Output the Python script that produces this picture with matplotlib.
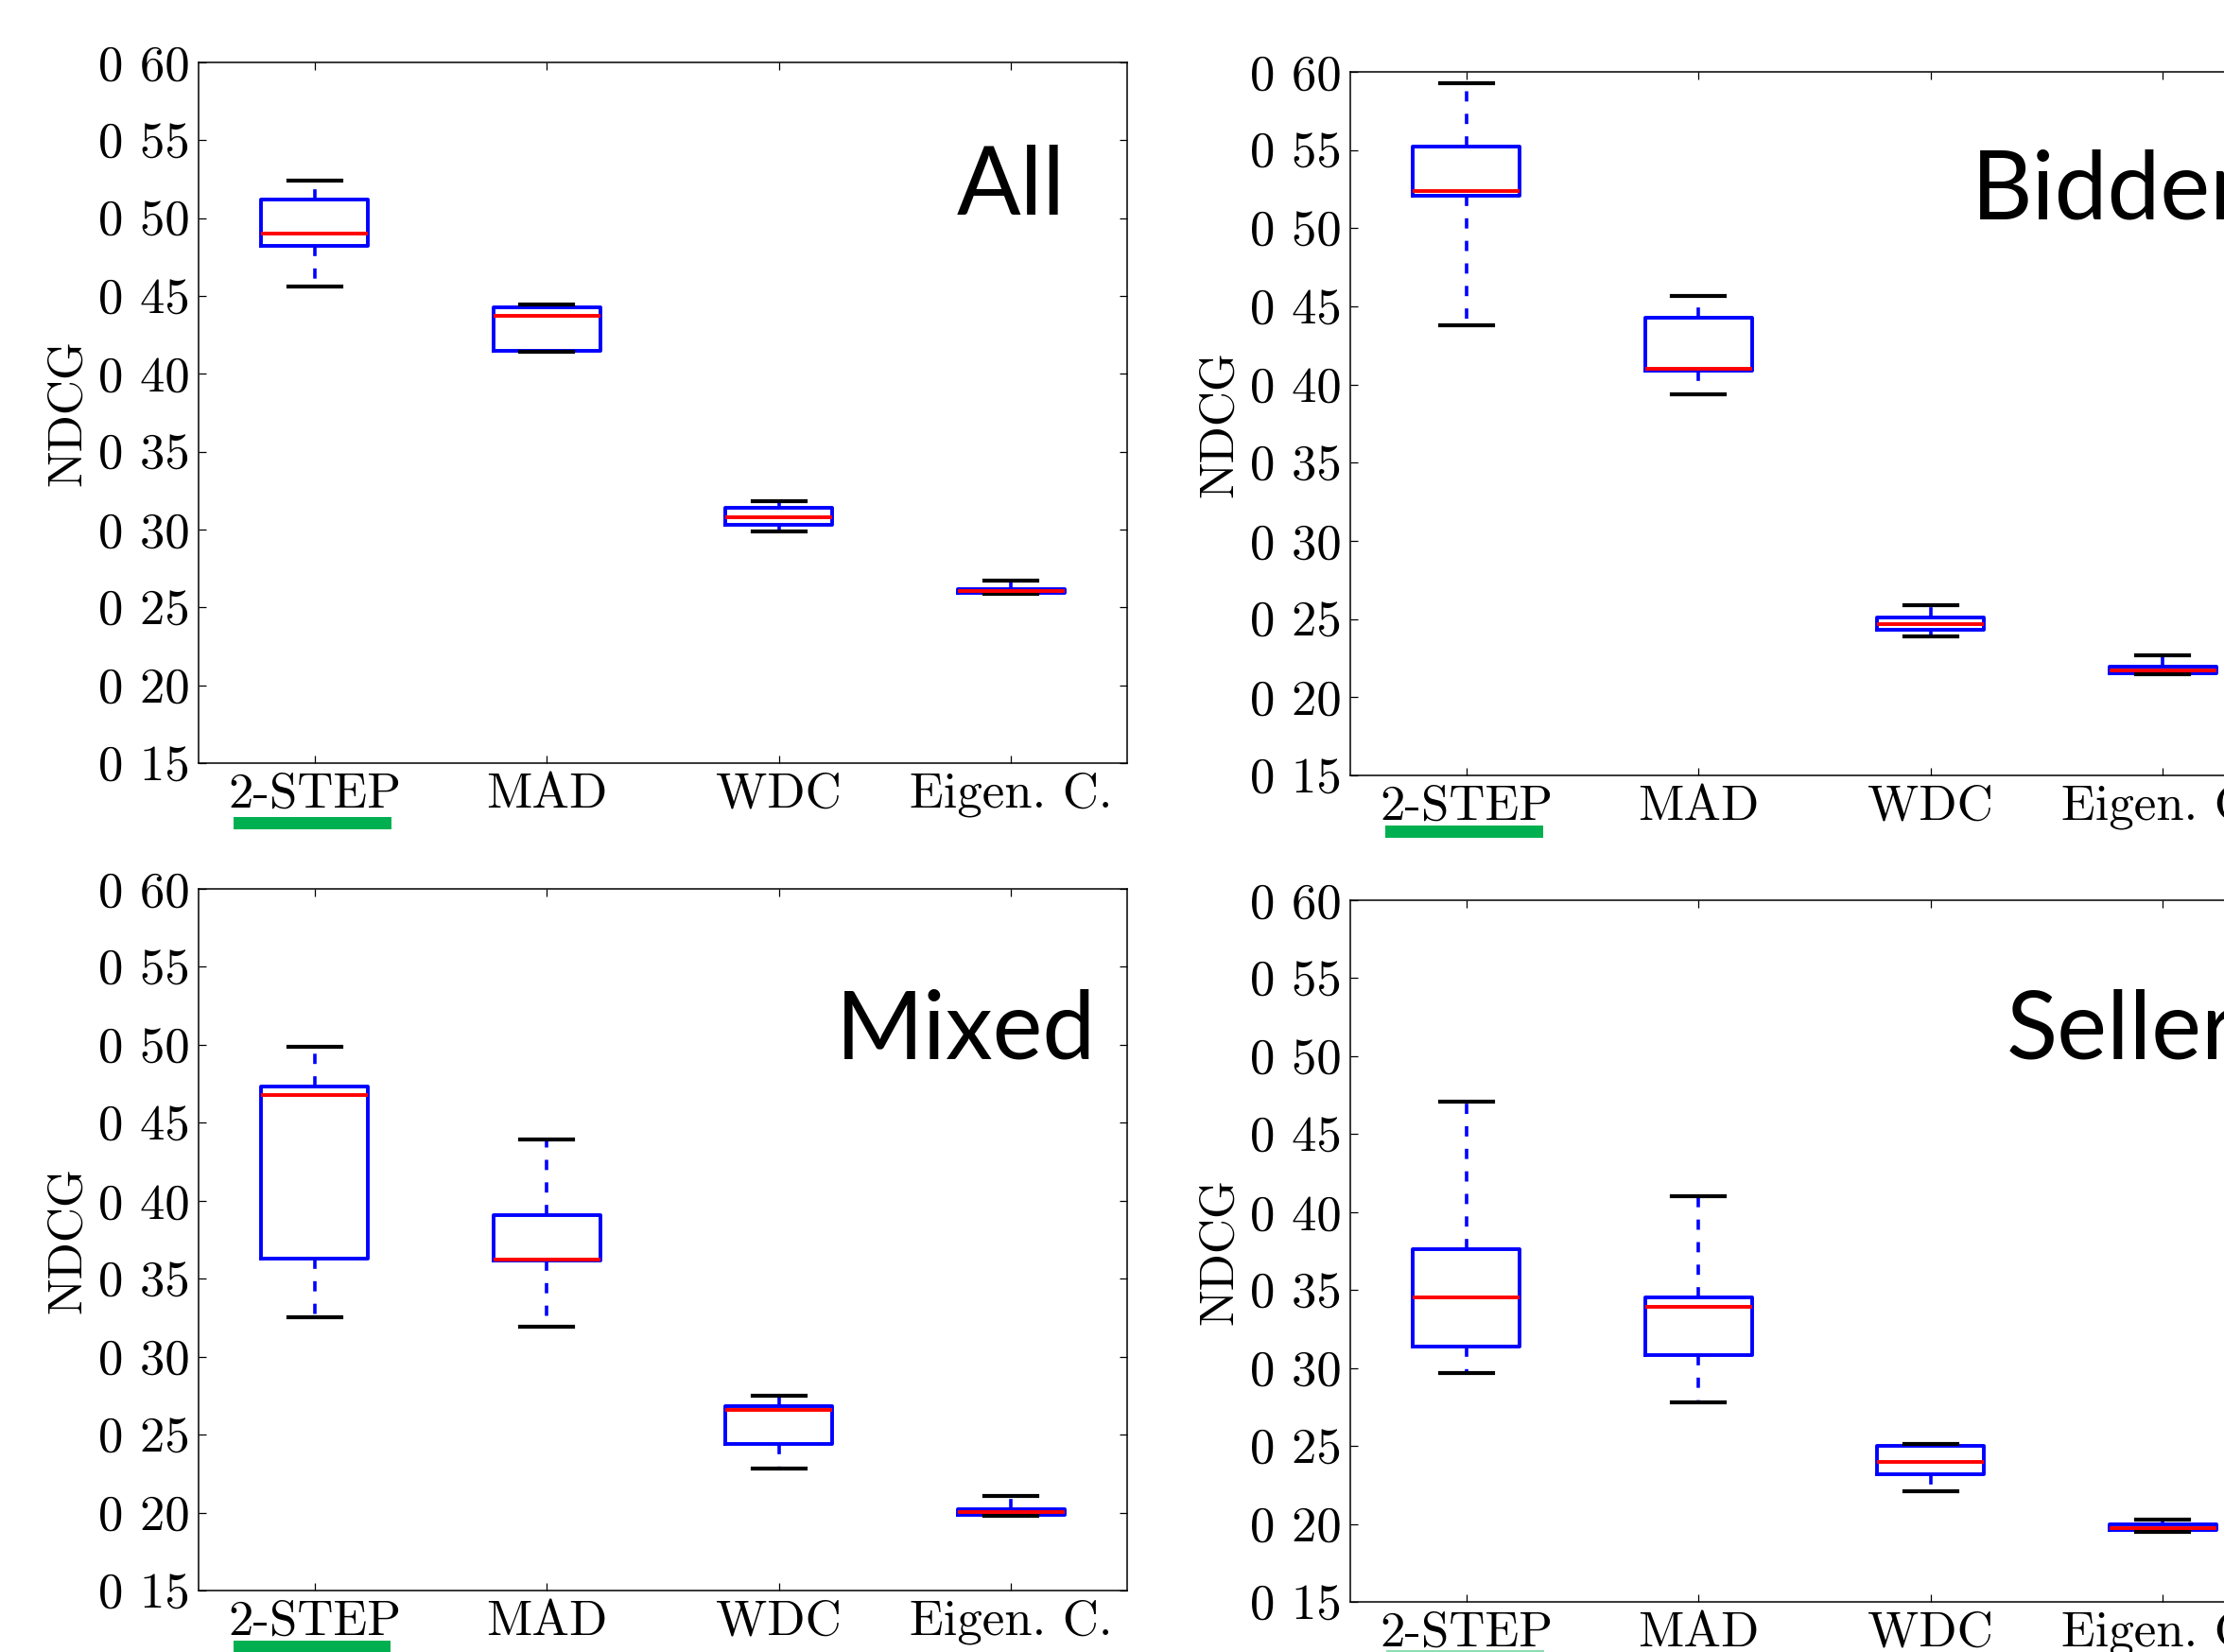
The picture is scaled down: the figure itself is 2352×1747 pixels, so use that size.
import matplotlib
matplotlib.use('Agg')
import matplotlib.pyplot as plt
from matplotlib.patches import Rectangle

plt.rcParams['axes.formatter.use_mathtext'] = True

W, H = 2352, 1747

methods = ['2-STEP', 'MAD', 'WDC', 'Eigen. C.']
yticks = [0.15, 0.20, 0.25, 0.30, 0.35, 0.40, 0.45, 0.50, 0.55, 0.60]
ytick_labels = ['0 15', '0 20', '0 25', '0 30', '0 35', '0 40', '0 45', '0 50', '0 55', '0 60']

# box stats per panel: lower whisker, Q1, median, Q3, upper whisker
all_lo = [0.456, 0.414, 0.299, 0.2585]
all_q1 = [0.482, 0.415, 0.303, 0.2595]
all_med = [0.490, 0.437, 0.308, 0.2605]
all_q3 = [0.512, 0.4425, 0.314, 0.262]
all_hi = [0.524, 0.4446, 0.318, 0.267]

bid_lo = [0.438, 0.394, 0.239, 0.2146]
bid_q1 = [0.521, 0.409, 0.243, 0.2153]
bid_med = [0.524, 0.410, 0.247, 0.2174]
bid_q3 = [0.552, 0.443, 0.251, 0.2195]
bid_hi = [0.593, 0.4565, 0.259, 0.227]

mix_lo = [0.325, 0.319, 0.228, 0.198]
mix_q1 = [0.363, 0.3614, 0.244, 0.1985]
mix_med = [0.468, 0.362, 0.266, 0.2005]
mix_q3 = [0.473, 0.391, 0.268, 0.202]
mix_hi = [0.499, 0.4395, 0.275, 0.2106]

sel_lo = [0.297, 0.278, 0.221, 0.195]
sel_q1 = [0.314, 0.308, 0.232, 0.196]
sel_med = [0.345, 0.339, 0.240, 0.1976]
sel_q3 = [0.376, 0.345, 0.250, 0.200]
sel_hi = [0.471, 0.410, 0.251, 0.2026]

panels = [
    ('All', (all_lo, all_q1, all_med, all_q3, all_hi)),
    ('Bidder', (bid_lo, bid_q1, bid_med, bid_q3, bid_hi)),
    ('Mixed', (mix_lo, mix_q1, mix_med, mix_q3, mix_hi)),
    ('Seller', (sel_lo, sel_q1, sel_med, sel_q3, sel_hi)),
]

# axes boxes in pixels: left, top, bottom (width shared)
ax_px = [(210, 66, 807), (1428, 76, 820), (210, 940, 1682), (1428, 952, 1694)]
ax_w = 982

# panel label: x, baseline y, alignment
label_px = [(1127, 227, 'right'), (2085, 231, 'left'),
            (1159, 1119, 'right'), (2122, 1119, 'left')]

# green underline bars under 2-STEP: left, top, right, bottom, colour
green_px = [(247, 864, 414, 877, '#00b050'), (1465, 873, 1632, 886, '#00b050'),
            (247, 1735, 413, 1760, '#00b050'), (1466, 1745, 1633, 1760, '#8fdcb2')]

fig = plt.figure(figsize=(W / 100, H / 100), dpi=100)
fig.patch.set_facecolor('white')

cm = 'cmr10'

for (name, (lo, q1, med, q3, hi)), (l, t, b), (lx, ly, ha), g in zip(panels, ax_px, label_px, green_px):
    ax = fig.add_axes([l / W, 1 - b / H, ax_w / W, (b - t) / H])
    stats = []
    for i in range(len(methods)):
        stats.append({'whislo': lo[i], 'q1': q1[i], 'med': med[i],
                      'q3': q3[i], 'whishi': hi[i], 'fliers': []})
    ax.bxp(stats, positions=[1, 2, 3, 4], widths=0.46, showfliers=False,
           boxprops=dict(color='#0000ff', linewidth=2.8),
           whiskerprops=dict(color='#0000ff', linewidth=2.6, linestyle=(0, (3.0, 3.6))),
           capprops=dict(color='black', linewidth=3.0, zorder=2.5),
           medianprops=dict(color='#ff0000', linewidth=2.8, zorder=2.6))
    ax.set_xlim(0.5, 4.5)
    ax.set_ylim(0.15, 0.60)
    ax.set_xticks([1, 2, 3, 4])
    ax.set_xticklabels(methods, family=cm, fontsize=38)
    ax.set_yticks(yticks)
    ax.set_yticklabels(ytick_labels, family=cm, fontsize=38)
    ax.tick_params(direction='in', top=True, right=True, length=6, width=0.9, pad=7)
    ax.set_ylabel('NDCG', family=cm, fontsize=37, labelpad=6)
    for sp in ax.spines.values():
        sp.set_linewidth(1.1)

    fig.text(lx / W, 1 - ly / H, name, family='Lato', fontsize=72,
             ha=ha, va='baseline')

    gl, gt, gr, gb, gc = g
    fig.add_artist(Rectangle((gl / W, 1 - gb / H), (gr - gl) / W, (gb - gt) / H,
                             transform=fig.transFigure, facecolor=gc,
                             edgecolor='none'))

fig.savefig('out.png', dpi=100, facecolor='white')
plt.close(fig)
